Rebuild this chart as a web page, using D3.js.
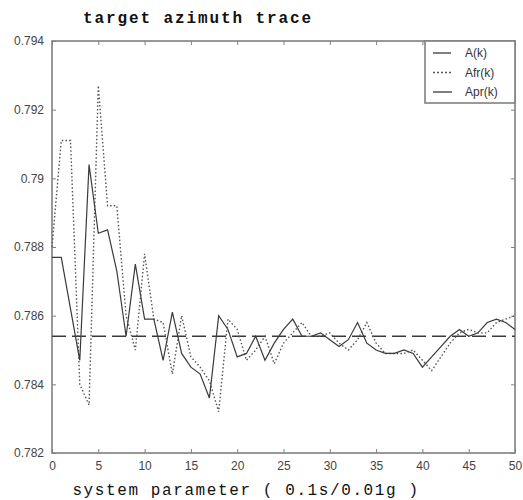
<!DOCTYPE html>
<html>
<head>
<meta charset="utf-8">
<script src="https://cdn.jsdelivr.net/npm/d3@7"></script>
<style>
  body { margin: 0; background: #fff; }
  svg { display: block; }
</style>
</head>
<body>
<div id="chart"></div>
<script>
// Chart data
const steps = d3.range(0, 51);
const trueValue = 0.7854;
const afrValues = [0.7880, 0.7911, 0.7911, 0.7840, 0.7834, 0.7927, 0.7892, 0.7892, 0.7860, 0.7850,
  0.7878, 0.7859, 0.7858, 0.7843, 0.7860, 0.7848, 0.7845, 0.7841, 0.7832, 0.7859,
  0.7856, 0.7847, 0.7850, 0.7854, 0.7846, 0.7852, 0.7855, 0.7858, 0.7854, 0.7854,
  0.7855, 0.7852, 0.7850, 0.7853, 0.7858, 0.7852, 0.7849, 0.7849, 0.7849, 0.7850,
  0.7847, 0.7844, 0.7848, 0.7852, 0.7855, 0.7856, 0.7855, 0.7855, 0.7858, 0.7859, 0.7860];
const aprValues = [0.7877, 0.7877, 0.7862, 0.7847, 0.7904, 0.7884, 0.7885, 0.7873, 0.7854, 0.7875,
  0.7859, 0.7859, 0.7847, 0.7861, 0.7849, 0.7845, 0.7843, 0.7836, 0.7860, 0.7856,
  0.7848, 0.7849, 0.7854, 0.7847, 0.7852, 0.7856, 0.7859, 0.7854, 0.7854, 0.7855,
  0.7853, 0.7851, 0.7853, 0.7858, 0.7852, 0.7850, 0.7849, 0.7849, 0.7850, 0.7849,
  0.7845, 0.7848, 0.7851, 0.7854, 0.7856, 0.7854, 0.7855, 0.7858, 0.7859, 0.7858, 0.7856];
const xTicks = [0, 5, 10, 15, 20, 25, 30, 35, 40, 45, 50];
const yTicks = [0.782, 0.784, 0.786, 0.788, 0.790, 0.792, 0.794];
const legendLabels = ["A(k)", "Afr(k)", "Apr(k)"];
const titleText = "target azimuth trace";
const xLabelText = "system parameter ( 0.1s/0.01g )";

const width = 523, height = 500;
const margin = {top: 41, right: 8, bottom: 47, left: 52};
const lineColor = "#3a3a3a", axisColor = "#808080";

const svg = d3.select("#chart").append("svg")
    .attr("width", width)
    .attr("height", height);

const x = d3.scaleLinear().domain([0, 50]).range([margin.left, width - margin.right]);
const y = d3.scaleLinear().domain([0.782, 0.794]).range([height - margin.bottom, margin.top]);

const tickFont = "'Liberation Sans Narrow', 'Liberation Sans', Arial, sans-serif";
const monoFont = "'Liberation Mono', 'DejaVu Sans Mono', monospace";

// Axes (ticks inside, box on all sides)
function styleAxis(g) {
  g.select(".domain").remove();
  g.selectAll(".tick line").attr("stroke", axisColor).attr("stroke-width", 1);
  g.selectAll(".tick text").attr("fill", "#444").style("font-family", tickFont).style("font-size", "12px");
}
svg.append("g")
    .attr("transform", `translate(0,${y.range()[0]})`)
    .call(d3.axisBottom(x).tickValues(xTicks).tickSizeInner(-4).tickPadding(8).tickFormat(d3.format("d")))
    .call(styleAxis);
svg.append("g")
    .attr("transform", `translate(0,${y.range()[1]})`)
    .call(d3.axisTop(x).tickValues(xTicks).tickSizeInner(-4).tickFormat(""))
    .call(styleAxis);
svg.append("g")
    .attr("transform", `translate(${x.range()[0]},0)`)
    .call(d3.axisLeft(y).tickValues(yTicks).tickSizeInner(-4).tickPadding(8).tickFormat(d => +d.toFixed(3)))
    .call(styleAxis);
svg.append("g")
    .attr("transform", `translate(${x.range()[1]},0)`)
    .call(d3.axisRight(y).tickValues(yTicks).tickSizeInner(-4).tickFormat(""))
    .call(styleAxis);

svg.append("rect")
    .attr("x", x.range()[0]).attr("y", y.range()[1])
    .attr("width", x.range()[1] - x.range()[0])
    .attr("height", y.range()[0] - y.range()[1])
    .attr("fill", "none").attr("stroke", axisColor).attr("stroke-width", 1.6);

// Series
const line = d3.line().x((d, i) => x(steps[i])).y(d => y(d));

svg.append("path")
    .datum(steps.map(() => trueValue))
    .attr("d", line)
    .attr("fill", "none").attr("stroke", lineColor).attr("stroke-width", 1.3)
    .attr("stroke-dasharray", "14 6");

svg.append("path")
    .datum(afrValues)
    .attr("d", line)
    .attr("fill", "none").attr("stroke", "#555").attr("stroke-width", 1.4)
    .attr("stroke-dasharray", "1.5 2.2");

svg.append("path")
    .datum(aprValues)
    .attr("d", line)
    .attr("fill", "none").attr("stroke", lineColor).attr("stroke-width", 1.2);

// Legend
const legend = svg.append("g").attr("transform", `translate(${x.range()[1] - 90},${y.range()[1]})`);
legend.append("rect")
    .attr("width", 90).attr("height", 62)
    .attr("fill", "#fff").attr("stroke", axisColor).attr("stroke-width", 1.6);
const dashes = ["18 4", "2 2", null];
legendLabels.forEach((label, i) => {
  const ly = 12 + i * 19.5;
  legend.append("line")
      .attr("x1", 8).attr("x2", 27).attr("y1", ly).attr("y2", ly)
      .attr("stroke", i === 1 ? "#555" : lineColor).attr("stroke-width", 1.3)
      .attr("stroke-dasharray", dashes[i]);
  legend.append("text")
      .attr("x", 40).attr("y", ly).attr("dy", "0.35em")
      .attr("fill", "#333")
      .style("font-family", tickFont).style("font-size", "12px")
      .text(label);
});

// Title and axis label
svg.append("text")
    .attr("x", 83).attr("y", 23)
    .attr("fill", "#111")
    .style("font-family", monoFont).style("font-size", "16px").style("font-weight", "bold")
    .style("letter-spacing", "1.9px")
    .text(titleText);

svg.append("text")
    .attr("x", 246).attr("y", 495)
    .attr("text-anchor", "middle")
    .attr("fill", "#111")
    .style("font-family", monoFont).style("font-size", "16px")
    .style("letter-spacing", "1.6px")
    .text(xLabelText);
</script>
</body>
</html>
